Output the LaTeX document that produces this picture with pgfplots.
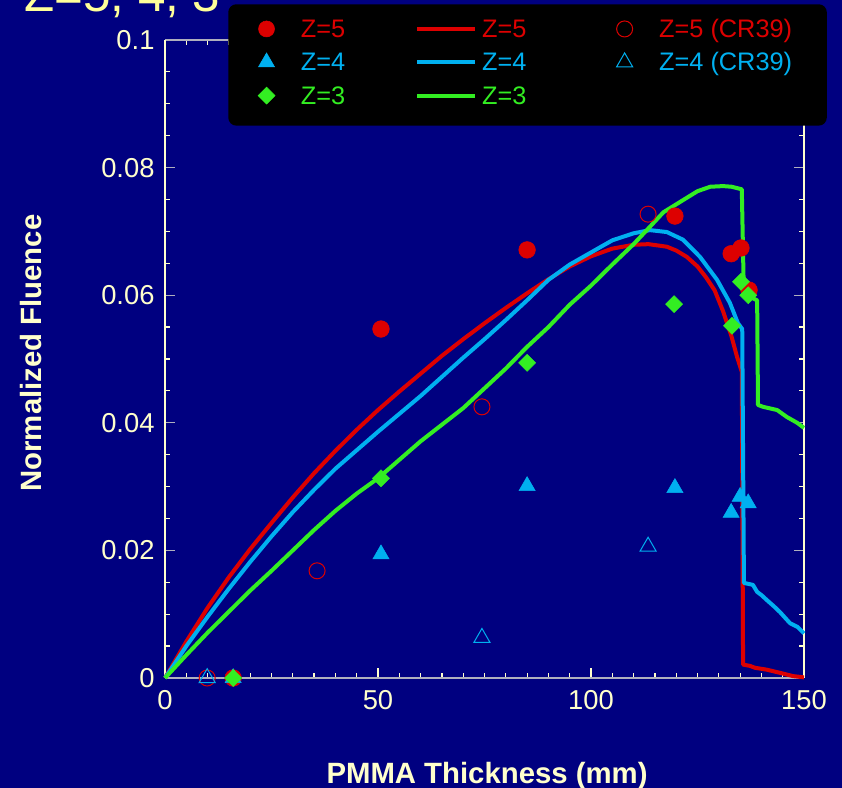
\documentclass[border=0pt]{standalone}
\usepackage{fontspec}
\setmainfont{Liberation Sans}
\usepackage{pgfplots}
\pgfplotsset{compat=1.18}
\definecolor{navy}{RGB}{0,0,128}
\definecolor{zred}{RGB}{221,0,0}
\definecolor{zblue}{RGB}{0,176,240}
\definecolor{zgreen}{RGB}{51,238,34}
\definecolor{cream}{RGB}{255,255,204}
\definecolor{ttl}{RGB}{255,255,153}
\definecolor{axgray}{RGB}{175,175,190}
\pgfplotsset{
  markimg/.style={legend image code/.code={%
      \path (-12.75pt,0pt) (25.5pt,0pt);
      \draw[mark repeat=2,mark phase=2,##1] plot coordinates {(-1pt,2pt) (0pt,2pt) (1pt,2pt)};}},
  lineimg/.style={legend image code/.code={%
      \path (0pt,0pt) (47pt,0pt);
      \draw[##1] (0pt,2pt) -- (43.5pt,2pt);}},
}
\begin{document}
\begin{tikzpicture}
\useasboundingbox (-123.75pt,-82.5pt) rectangle (507.75pt,508.5pt);
\fill[navy] (-123.75pt,-82.5pt) rectangle (507.75pt,508.5pt);
\node[anchor=base west, text=ttl, font=\fontsize{37}{40}\selectfont, inner sep=0pt] at (-105.75pt,499.5pt) {Z=5, 4, 3};
\begin{axis}[
  scale only axis, width=479.25pt, height=478.5pt,
  at={(0pt,0pt)}, anchor=south west,
  xmin=0, xmax=150, ymin=0, ymax=0.1,
  clip=false,
  xtick={0,50,100,150}, minor x tick num=9,
  ytick={0,0.02,0.04,0.06,0.08,0.1}, minor y tick num=3,
  tick align=inside, xtick pos=both, ytick pos=both,
  xticklabel pos=lower, yticklabel pos=left,
  major tick length=7.5pt, minor tick length=4pt,
  every major tick/.append style={line width=1pt},
  every minor tick/.append style={cream, line width=0.9pt},
  every major y tick/.append style={axgray},
  every major x tick/.append style={cream},
  separate axis lines,
  x axis line style={axgray, line width=1.2pt},
  y axis line style={cream, line width=1.1pt},
  scaled y ticks=false,
  /pgf/number format/assume math mode=true,
  tick label style={font=\fontsize{20.5}{24}\selectfont, text=cream},
  yticklabel style={/pgf/number format/fixed, /pgf/number format/precision=2, xshift=-4.35pt},
  xticklabel style={yshift=-5.85pt},
  xlabel={PMMA Thickness (mm)},
  xlabel style={at={(axis description cs:0.504,-0.1661)}, anchor=base, font=\bfseries\fontsize{22}{26}\selectfont, text=cream},
  ylabel={Normalized Fluence},
  ylabel style={at={(axis description cs:-0.1925,0.5094)}, anchor=base, font=\bfseries\fontsize{22}{26}\selectfont, text=cream},
  legend columns=3, legend cell align=left,
  legend style={fill=black, draw=none, rounded corners=6pt,
    at={(0.0986,1.0564)}, anchor=north west,
    font=\fontsize{19}{22}\selectfont,
    inner xsep=15.75pt, inner ysep=11pt, row sep=6pt, column sep=0pt,
    nodes={inner sep=0pt, text height=14pt, text depth=5pt}},
]
% --- calculated curves ---
\addplot[zred, line width=3pt, line join=round, forget plot] coordinates {
(0,0) (5,0.0057) (10,0.0110) (15,0.0158) (20,0.0202) (25,0.0243) (30,0.0283) (35,0.0321)
(40,0.0356) (45,0.0389) (50,0.0420) (55,0.0449) (60,0.0477) (65,0.0505) (70,0.0531)
(75,0.0556) (80,0.0580) (85,0.0603) (90,0.0625) (95,0.0645) (100,0.0661) (105,0.0673)
(110,0.0679) (113.5,0.0680) (117.8,0.0676) (120,0.0670) (122.5,0.0660) (125,0.0645)
(127,0.0628) (129,0.0608) (131,0.0575) (133,0.0535) (134.3,0.0503) (135.4,0.0480)
(135.7,0.0021) (137.3,0.0019) (138.5,0.0016) (141.3,0.0013) (144.4,0.0008) (147.4,0.0003) (150,0.0001)};
\addplot[zblue, line width=3pt, line join=round, forget plot] coordinates {
(0,0) (5,0.0050) (10,0.0096) (15,0.0140) (20,0.0182) (25,0.0222) (30,0.0260) (35,0.0295)
(40,0.0328) (45,0.0357) (50,0.0386) (55,0.0414) (60,0.0442) (65,0.0472) (70,0.0502)
(75,0.0531) (80,0.0561) (85,0.0592) (90,0.0624) (95,0.0648) (100,0.0667) (105,0.0686)
(110,0.0697) (113.8,0.0702) (117.8,0.0699) (121.6,0.0687) (125.6,0.0660) (129.6,0.0624)
(132.6,0.0588) (134.5,0.0556) (135.5,0.0547) (135.9,0.0149) (138,0.0146) (139,0.0135)
(140,0.0130) (141.3,0.0122) (143,0.0112) (144.4,0.0103) (146.7,0.0086) (148.5,0.0080) (150,0.0070)};
\addplot[zgreen, line width=3pt, line join=round, forget plot] coordinates {
(0,0) (5,0.0036) (10,0.0071) (15,0.0104) (20,0.0137) (25,0.0168) (30,0.0200) (35,0.0232)
(40,0.0262) (45,0.0289) (50,0.0313) (55,0.0342) (60,0.0371) (65,0.0397) (70,0.0423)
(75,0.0454) (80,0.0485) (85,0.0519) (90,0.0550) (95,0.0585) (100,0.0615) (105,0.0648)
(110,0.0680) (113.8,0.0707) (117,0.0730) (121.6,0.0749) (125,0.0763) (128,0.0770)
(131,0.0771) (133,0.0770) (135.4,0.0766) (135.8,0.0630) (136.4,0.0600) (139.0,0.0592)
(139.2,0.0428) (140.4,0.0425) (143.7,0.0420) (146,0.0409) (148.4,0.0400) (150,0.0392)};
% --- CR39 data ---
\addplot[only marks, mark=o, mark size=6pt, zred, line width=0.75pt, forget plot] coordinates {
(9.9,0) (35.7,0.0168) (74.4,0.0425) (113.4,0.0727)};
\addplot[only marks, mark=triangle, mark size=7pt, zblue, line width=0.75pt, forget plot] coordinates {
(9.9,0) (74.4,0.0063) (113.4,0.0206)};
% --- measured data ---
\addplot[only marks, mark=*, mark size=6.25pt, zred, forget plot] coordinates {
(16,0) (50.7,0.0547) (85,0.0671) (119.7,0.0724) (132.9,0.0665) (135.2,0.0674) (137.1,0.0608)};
\addplot[only marks, mark=triangle*, mark size=7pt, zblue, forget plot] coordinates {
(16,0) (50.7,0.0194) (85,0.0301) (119.7,0.0298) (132.9,0.0259) (135,0.0284) (136.9,0.0274)};
\addplot[only marks, mark=square*, mark size=4.5pt, mark options={rotate=45}, zgreen, forget plot] coordinates {
(16,0) (50.7,0.0313) (85,0.0494) (119.5,0.0586) (133.1,0.0552) (135.2,0.0621) (136.9,0.0600)};
% --- legend ---
\addlegendimage{only marks, mark=*, mark size=6pt, zred, markimg}
\addlegendentry{\makebox[86pt][l]{\textcolor{zred}{Z=5}}}
\addlegendimage{zred, line width=3pt, lineimg}
\addlegendentry{\makebox[93.75pt][l]{\textcolor{zred}{Z=5}}}
\addlegendimage{only marks, mark=o, mark size=6pt, zred, line width=0.75pt, markimg}
\addlegendentry{\makebox[110pt][l]{\textcolor{zred}{Z=5 (CR39)}}}
\addlegendimage{only marks, mark=triangle*, mark size=7pt, zblue, markimg}
\addlegendentry{\makebox[86pt][l]{\textcolor{zblue}{Z=4}}}
\addlegendimage{zblue, line width=3pt, lineimg}
\addlegendentry{\makebox[93.75pt][l]{\textcolor{zblue}{Z=4}}}
\addlegendimage{only marks, mark=triangle, mark size=7pt, zblue, line width=0.75pt, markimg}
\addlegendentry{\makebox[110pt][l]{\textcolor{zblue}{Z=4 (CR39)}}}
\addlegendimage{only marks, mark=square*, mark size=4.5pt, mark options={rotate=45}, zgreen, markimg}
\addlegendentry{\makebox[86pt][l]{\textcolor{zgreen}{Z=3}}}
\addlegendimage{zgreen, line width=3pt, lineimg}
\addlegendentry{\makebox[93.75pt][l]{\textcolor{zgreen}{Z=3}}}
\end{axis}
\end{tikzpicture}
\end{document}
